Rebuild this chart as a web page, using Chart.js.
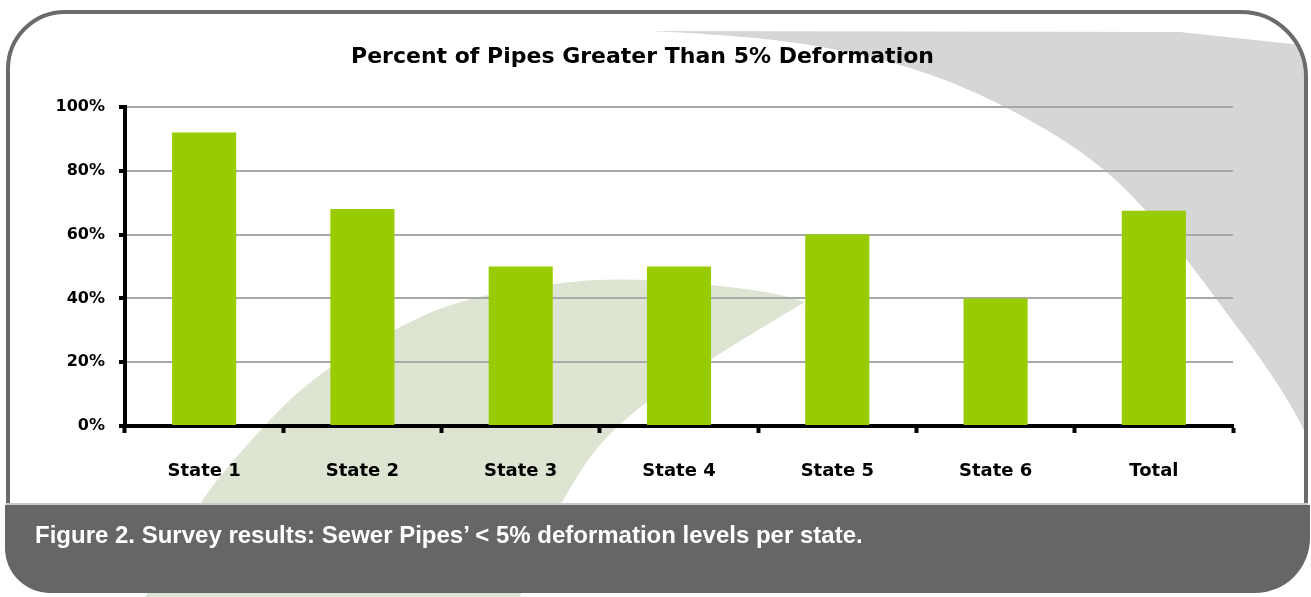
<!DOCTYPE html>
<html><head><meta charset="utf-8">
<script src="https://cdn.jsdelivr.net/npm/chart.js@4"></script>
<style>
html,body{margin:0;padding:0;background:#fff;}
#wrap{position:relative;width:1311px;height:597px;overflow:hidden;}
#c{position:absolute;left:0;top:0;}
#cap{position:absolute;left:35px;top:523px;font:bold 24px "Liberation Sans",Arial,sans-serif;color:#fff;white-space:nowrap;line-height:24px;}
</style></head><body>
<div id="wrap"><canvas id="c" width="1311" height="597"></canvas>
<div id="cap">Figure 2. Survey results: Sewer Pipes’ &lt; 5% deformation levels per state.</div></div>
<script>
const categories = ['State 1', 'State 2', 'State 3', 'State 4', 'State 5', 'State 6', 'Total'];
const values = [92, 68, 50, 50, 60, 40, 67.5];
const yTicks = [0, 20, 40, 60, 80, 100];
const yTickLabels = ['0%', '20%', '40%', '60%', '80%', '100%'];
const titleText = 'Percent of Pipes Greater Than 5% Deformation';

function smoothPath(ctx, pts, move) {
  if (move) ctx.moveTo(pts[0][0], pts[0][1]); else ctx.lineTo(pts[0][0], pts[0][1]);
  for (let i = 1; i < pts.length - 1; i++) {
    const mx = (pts[i][0] + pts[i + 1][0]) / 2, my = (pts[i][1] + pts[i + 1][1]) / 2;
    ctx.quadraticCurveTo(pts[i][0], pts[i][1], mx, my);
  }
  const l = pts[pts.length - 1];
  ctx.lineTo(l[0], l[1]);
}

const bgPlugin = {
  id: 'bg',
  beforeDraw(chart) {
    const ctx = chart.ctx;
    ctx.save();
    ctx.fillStyle = '#ffffff';
    ctx.fillRect(0, 0, 1311, 597);
    // pale green crescent
    ctx.fillStyle = '#dde4d2';
    ctx.beginPath();
    smoothPath(ctx, [[118, 640], [146, 597], [197, 506], [233, 460], [304, 383], [386, 333], [457, 300], [559, 282], [636, 278], [763, 290], [805, 302]], true);
    smoothPath(ctx, [[805, 302], [712, 357], [610, 427], [559, 503], [520, 597], [500, 640]], false);
    ctx.closePath();
    ctx.fill();
    // grey swoosh clipped to frame interior
    ctx.save();
    ctx.beginPath();
    ctx.roundRect(10, 14, 1294, 495, [55, 63, 0, 0]);
    ctx.clip();
    ctx.fillStyle = '#d6d6d6';
    ctx.beginPath();
    ctx.moveTo(650, 31);
    ctx.lineTo(1180, 32);
    ctx.lineTo(1311, 46);
    ctx.lineTo(1311, 445);
    smoothPath(ctx, [[1311, 445], [1300, 420], [1267, 367], [1217, 300], [1167, 233], [1100, 162], [1000, 102], [905, 64], [800, 42], [710, 34], [650, 31]], false);
    ctx.closePath();
    ctx.fill();
    ctx.restore();
    // frame border
    ctx.strokeStyle = '#6b6b6b';
    ctx.lineWidth = 4;
    ctx.beginPath();
    ctx.roundRect(8, 12, 1298, 520, [57, 65, 0, 0]);
    ctx.stroke();
    // caption band
    ctx.fillStyle = '#c8c8c8';
    ctx.fillRect(6, 503, 1302, 2);
    ctx.fillStyle = '#666666';
    ctx.beginPath();
    ctx.roundRect(5, 505, 1305, 88, [0, 0, 55, 45]);
    ctx.fill();
    ctx.restore();
  }
};

const tickFont = { family: 'DejaVu Sans', size: 16, weight: 'bold' };

new Chart(document.getElementById('c'), {
  type: 'bar',
  data: {
    labels: categories,
    datasets: [{
      data: values,
      backgroundColor: '#99cc00',
      borderWidth: 0,
      barPercentage: 0.405,
      categoryPercentage: 1.0
    }]
  },
  options: {
    responsive: false,
    animation: false,
    layout: { padding: { left: 52, right: 78, top: 0, bottom: 0 } },
    plugins: {
      legend: { display: false },
      tooltip: { enabled: false },
      title: {
        display: true,
        text: titleText,
        color: '#000',
        font: { family: 'DejaVu Sans', size: 22, weight: 'bold', lineHeight: 1.2 },
        padding: { top: 44, bottom: 36.6 }
      }
    },
    scales: {
      x: {
        grid: { display: true, drawOnChartArea: false, drawTicks: true, tickLength: 7, tickWidth: 4, tickColor: '#000', offset: true },
        border: { display: true, color: '#000', width: 4 },
        ticks: { color: '#000', font: { family: 'DejaVu Sans', size: 18, weight: 'bold' }, padding: 28, maxRotation: 0, autoSkip: false },
        afterFit(s) { s.height = 171; }
      },
      y: {
        min: 0, max: 100,
        grid: { color: '#a8a8a8', lineWidth: 2, tickLength: 6, tickWidth: 4, tickColor: '#000' },
        border: { display: true, color: '#000', width: 4 },
        ticks: {
          color: '#000', font: tickFont, padding: 14,
          callback: (v) => yTickLabels[yTicks.indexOf(v)]
        },
        afterBuildTicks(s) { s.ticks = yTicks.map(v => ({ value: v })); },
        afterFit(s) { s.width = 73; }
      }
    }
  },
  plugins: [bgPlugin]
});
</script>
</body></html>
